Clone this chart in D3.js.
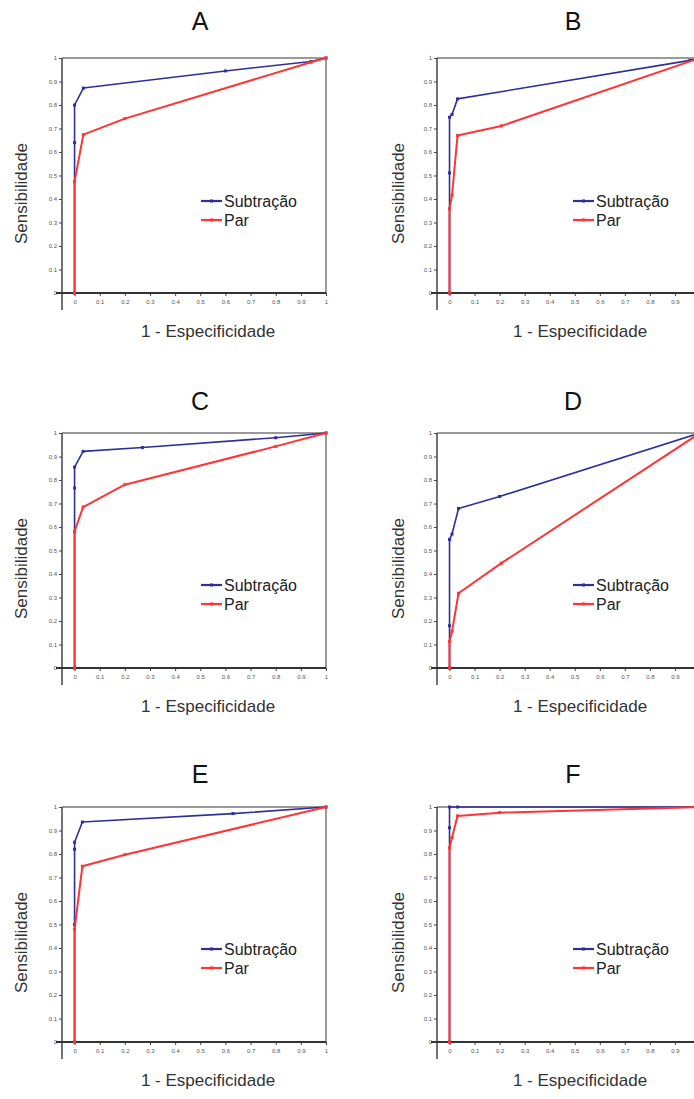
<!DOCTYPE html>
<html>
<head>
<meta charset="utf-8">
<script src="https://cdn.jsdelivr.net/npm/d3@7"></script>
<style>
  body { margin: 0; background: #fff; }
  svg { display: block; font-family: "Liberation Sans", Arial, sans-serif; }
</style>
</head>
<body>
<div id="chart"></div>
<script>
// ROC points [1 - especificidade, sensibilidade]
const panelNames = ["A", "B", "C", "D", "E", "F"];
const seriesNames = ["Subtração", "Par"];
const tickValues = [0, 0.1, 0.2, 0.3, 0.4, 0.5, 0.6, 0.7, 0.8, 0.9, 1];

const subA = [[0,0],[0,0.64],[0,0.80],[0.035,0.872],[0.6,0.945],[0.94,0.985],[1,1]];
const parA = [[0,0],[0,0.475],[0.035,0.674],[0.2,0.742],[0.94,0.982],[1,1]];
const subB = [[0,0],[0,0.511],[0,0.748],[0.01,0.76],[0.032,0.826],[0.96,0.99],[1,1]];
const parB = [[0,0],[0,0.359],[0.01,0.416],[0.032,0.67],[0.207,0.711],[1,1]];
const subC = [[0,0],[0,0.58],[0,0.766],[0,0.855],[0.034,0.922],[0.27,0.938],[0.8,0.98],[1,1]];
const parC = [[0,0],[0,0.582],[0.034,0.685],[0.2,0.78],[0.8,0.943],[1,1]];
const subD = [[0,0],[0,0.18],[0,0.547],[0.01,0.57],[0.036,0.679],[0.2,0.73],[1,1]];
const parD = [[0,0],[0,0.113],[0.01,0.156],[0.036,0.318],[0.207,0.446],[1,1]];
const subE = [[0,0],[0,0.5],[0,0.82],[0,0.85],[0.031,0.936],[0.63,0.972],[1,1]];
const parE = [[0,0],[0,0.479],[0.031,0.748],[0.2,0.797],[1,1]];
const subF = [[0,0],[0,0.912],[0,1],[0.032,1],[1,1]];
const parF = [[0,0],[0,0.827],[0.01,0.87],[0.032,0.962],[0.2,0.976],[1,1]];

const subtracao = [subA, subB, subC, subD, subE, subF];
const par = [parA, parB, parC, parD, parE, parF];

const W = 694, H = 1099;
const colors = ["#2e2e9c", "#ff3434"];

// frame geometry per column / row
const cols = [{ x0: 62, x1: 326, title: 200, ylab: 21, xlab: 208, leg: 201 },
              { x0: 437, x1: 700, title: 573, ylab: 398, xlab: 580, leg: 573 }];
const rows = [{ top: 58, bot: 293, title: 30, leg: 201 },
              { top: 433, bot: 668, title: 410, leg: 585 },
              { top: 807, bot: 1042, title: 783, leg: 949 }];

const svg = d3.select("#chart").append("svg")
  .attr("width", W).attr("height", H);

panelNames.forEach(function (name, i) {
  const c = cols[i % 2], r = rows[Math.floor(i / 2)];
  const x = d3.scaleLinear().domain([-0.05, 1]).range([c.x0, c.x1]);
  const y = d3.scaleLinear().domain([0, 1]).range([r.bot, r.top]);
  const g = svg.append("g");

  // frame (top and right)
  g.append("path")
    .attr("d", `M${c.x0},${r.top}H${c.x1}V${r.bot}`)
    .attr("fill", "none").attr("stroke", "#7a7a7a").attr("stroke-width", 1.5);

  // y axis
  const ya = g.append("g").attr("transform", `translate(${c.x0},0)`)
    .call(d3.axisLeft(y).tickValues(tickValues).tickSize(3).tickSizeOuter(0)
      .tickFormat(d3.format(".1~f")));
  // x axis (ticks past the page edge are dropped, as in the cropped figure)
  const xa = g.append("g").attr("transform", `translate(0,${r.bot})`)
    .call(d3.axisBottom(x).tickValues(tickValues.filter(v => x(v) < W - 3))
      .tickSize(3).tickSizeOuter(0)
      .tickFormat(d3.format(".1~f")));
  [ya, xa].forEach(function (a) {
    a.select(".domain").remove();
    a.selectAll("line").attr("stroke", "#444");
    a.selectAll("text").attr("font-size", 6).attr("fill", "#555");
  });
  ya.selectAll("text").attr("x", -5);
  xa.selectAll("text").attr("y", 7);

  // axis lines crossing at lower left
  g.append("line").attr("x1", c.x0).attr("x2", c.x0)
    .attr("y1", r.top).attr("y2", r.bot + 17)
    .attr("stroke", "#444").attr("stroke-width", 1.5);
  g.append("line").attr("x1", c.x0 - 6).attr("x2", c.x1)
    .attr("y1", r.bot).attr("y2", r.bot)
    .attr("stroke", "#333").attr("stroke-width", 1.8);

  // curves
  const line = d3.line().x(d => x(d[0])).y(d => y(d[1]));
  [subtracao[i], par[i]].forEach(function (pts, k) {
    g.append("path").datum(pts)
      .attr("d", line)
      .attr("fill", "none")
      .attr("stroke", colors[k])
      .attr("stroke-width", k === 1 ? 2 : 1.6)
      .attr("stroke-linejoin", "round");
    g.selectAll(null).data(pts).join("rect")
      .attr("x", d => x(d[0]) - 1.5).attr("y", d => y(d[1]) - 1.5)
      .attr("width", 3).attr("height", 3)
      .attr("fill", colors[k]);
  });

  // title
  g.append("text").attr("x", c.title).attr("y", r.title)
    .attr("text-anchor", "middle").attr("font-size", 25).attr("fill", "#111")
    .text(name);

  // axis labels
  g.append("text")
    .attr("transform", `translate(${c.ylab},${(r.top + r.bot) / 2 + 18}) rotate(-90)`)
    .attr("text-anchor", "middle").attr("dominant-baseline", "central")
    .attr("font-size", 17).attr("fill", "#333")
    .text("Sensibilidade");
  g.append("text").attr("x", c.xlab).attr("y", r.bot + 44)
    .attr("text-anchor", "middle").attr("font-size", 17).attr("fill", "#333")
    .text("1 - Especificidade");

  // legend
  seriesNames.forEach(function (s, k) {
    const ly = r.leg + k * 19;
    g.append("line").attr("x1", c.leg).attr("x2", c.leg + 21)
      .attr("y1", ly).attr("y2", ly)
      .attr("stroke", colors[k]).attr("stroke-width", 2.2);
    g.append("rect").attr("x", c.leg + 9).attr("y", ly - 1.5)
      .attr("width", 3).attr("height", 3).attr("fill", colors[k]);
    g.append("text").attr("x", c.leg + 23).attr("y", ly)
      .attr("dominant-baseline", "central")
      .attr("font-size", 16).attr("fill", "#222")
      .text(s);
  });
});
</script>
</body>
</html>
